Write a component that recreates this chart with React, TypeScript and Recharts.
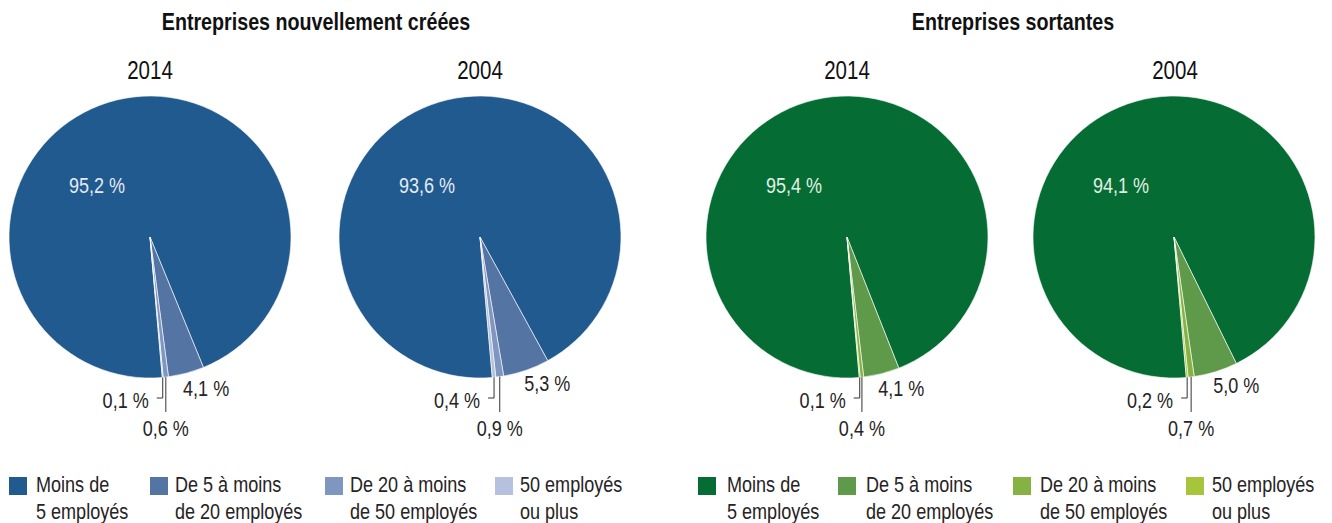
import { PieChart, Pie, Cell } from "recharts";

const categories = [
  "Moins de 5 employés",
  "De 5 à moins de 20 employés",
  "De 20 à moins de 50 employés",
  "50 employés ou plus",
];
const legendLines = [
  ["Moins de", "5 employés"],
  ["De 5 à moins", "de 20 employés"],
  ["De 20 à moins", "de 50 employés"],
  ["50 employés", "ou plus"],
];
const panelTitles = ["Entreprises nouvellement créées", "Entreprises sortantes"];
const years = ["2014", "2004"];

const creees2014 = [95.2, 4.1, 0.6, 0.1];
const creees2004 = [93.6, 5.3, 0.9, 0.4];
const sortantes2014 = [95.4, 4.1, 0.4, 0.1];
const sortantes2004 = [94.1, 5.0, 0.7, 0.2];

const blues = ["#215a8e", "#5474a3", "#7f96c0", "#b5c1dd"];
const greens = ["#056d33", "#5f9a4b", "#86b244", "#a7c53b"];

// no narrow font installed: squeeze Liberation Sans horizontally
const FONT = "'Liberation Sans', Arial, sans-serif";
const SQ = 0.82;
const TEXT = "#262324";
const R = 141;
const RAD = Math.PI / 180;

const fmt = (v: number) => v.toFixed(1).replace(".", ",") + " %";

function NarrowText({ x, y, txt, fill, anchor }: { x: number; y: number; txt: string; fill: string; anchor: string }) {
  return (
    <text transform={`translate(${x},${y}) scale(${SQ},1)`} fill={fill} fontSize={22} fontFamily={FONT}
      textAnchor={anchor} dominantBaseline="central">{txt}</text>
  );
}

function renderLabel(props: any, innerColor: string) {
  const { cx, cy, midAngle, outerRadius, index, value } = props;
  const txt = fmt(value);
  const px = (r: number, a: number) => cx + r * Math.cos(-a * RAD);
  const py = (r: number, a: number) => cy + r * Math.sin(-a * RAD);

  if (index === 0) {
    return <NarrowText x={cx - 53} y={cy - 52} txt={txt} fill={innerColor} anchor="middle" />;
  }
  if (index === 1) {
    const a = midAngle + 5.5;
    return <NarrowText x={px(outerRadius + 20, a)} y={py(outerRadius + 20, a)} txt={txt} fill={TEXT} anchor="middle" />;
  }
  const x0 = px(outerRadius, midAngle);
  const y0 = py(outerRadius, midAngle);
  if (index === 2) {
    return (
      <g>
        <line x1={x0} y1={y0} x2={x0} y2={cy + 175} stroke="#333" strokeWidth={1} />
        <NarrowText x={x0} y={cy + 191} txt={txt} fill={TEXT} anchor="middle" />
      </g>
    );
  }
  return (
    <g>
      <polyline points={`${x0},${y0} ${x0},${cy + 161} ${x0 - 6},${cy + 161}`} fill="none"
        stroke="#333" strokeWidth={1} />
      <NarrowText x={x0 - 14} y={cy + 163} txt={txt} fill={TEXT} anchor="end" />
    </g>
  );
}

function OnePie({ values, colors, left, innerColor }: { values: number[]; colors: string[]; left: number; innerColor: string }) {
  const data = categories.map((name, i) => ({ name, value: values[i] }));
  return (
    <div style={{ position: "absolute", left: left - 165, top: 0 }}>
      <PieChart width={330} height={460} margin={{ top: 0, right: 0, bottom: 0, left: 0 }}>
        <Pie
          data={data}
          dataKey="value"
          cx={165}
          cy={237}
          outerRadius={R}
          startAngle={-85}
          endAngle={-445}
          stroke="#ffffff"
          strokeWidth={0.6}
          labelLine={false}
          label={(p: any) => renderLabel(p, innerColor)}
          isAnimationActive={false}
        >
          {data.map((_, i) => (
            <Cell key={i} fill={colors[i]} />
          ))}
        </Pie>
      </PieChart>
    </div>
  );
}

function Legend({ colors, swatchX, textX }: { colors: string[]; swatchX: number[]; textX: number[] }) {
  return (
    <>
      {legendLines.map((lines, i) => (
        <div key={i}>
          <div style={{ position: "absolute", left: swatchX[i], top: 477, width: 18, height: 18, background: colors[i] }} />
          <div style={{ position: "absolute", left: textX[i], top: 471, fontSize: 22, lineHeight: "27px", color: TEXT, fontFamily: FONT, whiteSpace: "nowrap", transform: `scaleX(${SQ})`, transformOrigin: "left top" }}>
            {lines[0]}
            <br />
            {lines[1]}
          </div>
        </div>
      ))}
    </>
  );
}

function CenterText({ x, y, size, bold, children }: { x: number; y: number; size: number; bold?: boolean; children: string }) {
  return (
    <div style={{ position: "absolute", left: x - 250, width: 500, top: y - size * 0.6, textAlign: "center", fontSize: size, lineHeight: `${size * 1.2}px`, fontWeight: bold ? 700 : 400, fontFamily: FONT, color: "#111", transform: `scaleX(${SQ})`, transformOrigin: "center top" }}>
      {children}
    </div>
  );
}

export default function App() {
  return (
    <div style={{ position: "absolute", left: 0, top: 0, width: 1332, height: 523, background: "#fff", overflow: "hidden" }}>
      <CenterText x={316} y={22} size={24} bold>{panelTitles[0]}</CenterText>
      <CenterText x={1013} y={22} size={24} bold>{panelTitles[1]}</CenterText>
      <CenterText x={150} y={70} size={25}>{years[0]}</CenterText>
      <CenterText x={480} y={70} size={25}>{years[1]}</CenterText>
      <CenterText x={847} y={70} size={25}>{years[0]}</CenterText>
      <CenterText x={1175} y={70} size={25}>{years[1]}</CenterText>

      <OnePie values={creees2014} colors={blues} left={150} innerColor="#e4eaf3" />
      <OnePie values={creees2004} colors={blues} left={480} innerColor="#e4eaf3" />
      <OnePie values={sortantes2014} colors={greens} left={847} innerColor="#e2efe6" />
      <OnePie values={sortantes2004} colors={greens} left={1174} innerColor="#e2efe6" />

      <Legend colors={blues} swatchX={[9, 150, 325, 495]} textX={[36, 175, 350, 520]} />
      <Legend colors={greens} swatchX={[698, 838, 1013, 1186]} textX={[727, 866, 1040, 1212]} />
    </div>
  );
}
